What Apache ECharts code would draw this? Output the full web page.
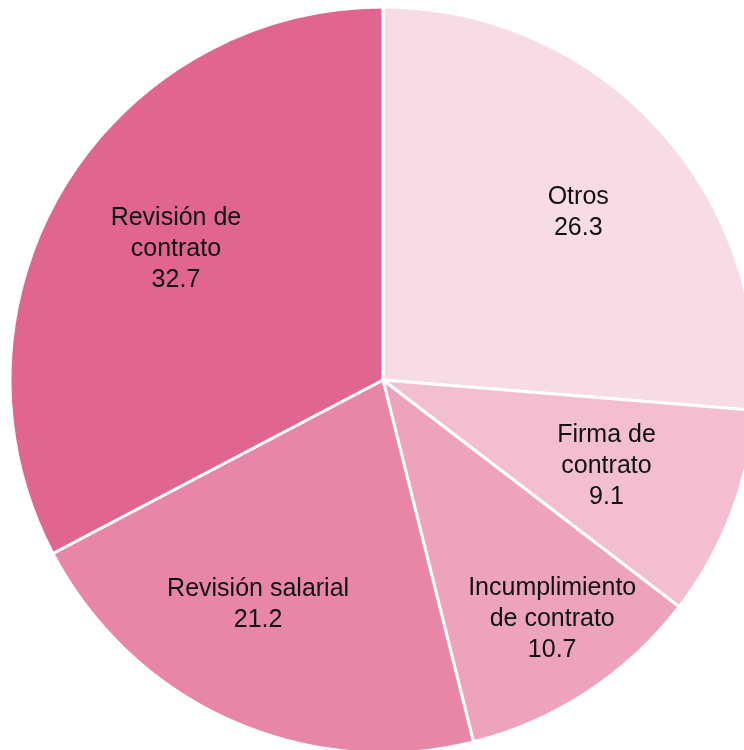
<!DOCTYPE html>
<html><head><meta charset="utf-8">
<script src="https://cdn.jsdelivr.net/npm/echarts@6/dist/echarts.min.js"></script>
<style>html,body{margin:0;padding:0;background:#fff}#c{width:744px;height:750px}</style>
</head><body><div id="c"></div>
<script>
const categories = ['Otros', 'Firma de\ncontrato', 'Incumplimiento\nde contrato', 'Revisión salarial', 'Revisión de\ncontrato'];
const values = [26.3, 9.1, 10.7, 21.2, 32.7];
const colors = ['#F8DCE5', '#F2BED0', '#ECA3BB', '#E786A6', '#E1668F'];

const cx = 383, cy = 380, R = 373;
const labelFac = [0.69, 0.642, 0.785, 0.688, 0.657];
const labelShift = [2, 0, -2, 5, 1.2];
const total = values.reduce((a, b) => a + b, 0);
const mids = [];
let acc = 0;
values.forEach(v => { mids.push((acc + v / 2) / total * 360); acc += v; });

const chart = echarts.init(document.getElementById('c'));
chart.setOption({
  animation: false,
  series: [{
    type: 'pie',
    center: [cx, cy],
    radius: [0, R],
    startAngle: 90,
    clockwise: true,
    silent: true,
    itemStyle: { borderColor: '#fff', borderWidth: 3 },
    label: {
      show: true,
      position: 'inside',
      formatter: p => p.name + '\n' + p.value.toFixed(1),
      fontFamily: 'Liberation Sans, Arial, sans-serif',
      fontSize: 25,
      lineHeight: 31,
      color: '#111',
      align: 'center'
    },
    labelLine: { show: false },
    labelLayout: function (p) {
      const i = p.dataIndex;
      const a = (mids[i] + labelShift[i]) * Math.PI / 180;
      const r = R * labelFac[i];
      return { x: cx + r * Math.sin(a), y: cy - r * Math.cos(a), align: 'center', verticalAlign: 'middle' };
    },
    data: categories.map((n, i) => ({ name: n, value: values[i], itemStyle: { color: colors[i] } }))
  }]
});
</script></body></html>
